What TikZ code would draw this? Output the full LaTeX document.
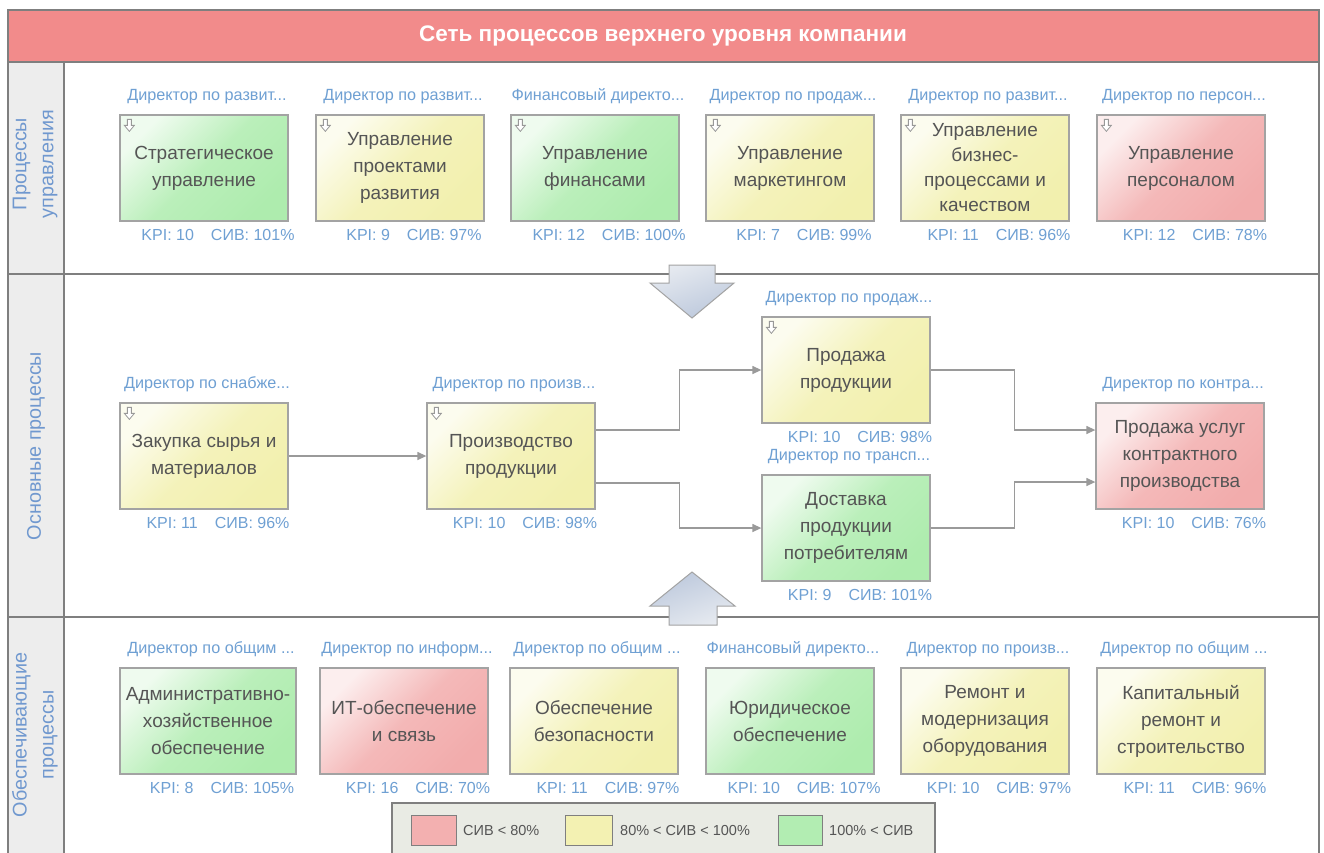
\documentclass[tikz,border=0pt]{standalone}
\usepackage{fontspec}
\setmainfont{Liberation Sans}
\usetikzlibrary{arrows.meta}

\definecolor{frameline}{HTML}{7F7F7F}
\definecolor{titlefill}{HTML}{F28B8B}
\definecolor{lanefill}{HTML}{EDEDED}
\definecolor{lanetextc}{HTML}{7098CF}
\definecolor{bluetext}{HTML}{6FA0D3}
\definecolor{boxtext}{HTML}{555555}
\definecolor{boxline}{HTML}{A3A3A3}
\definecolor{linkline}{HTML}{9A9A9A}
\definecolor{greenD}{HTML}{AEECAE}
\definecolor{yellowD}{HTML}{F2F0AE}
\definecolor{redD}{HTML}{F2ACAC}
\definecolor{arrowD}{HTML}{BCC8DC}
\definecolor{arrowL}{HTML}{E6EAF0}
\definecolor{legendfill}{HTML}{E9EBE4}

\tikzset{
  procbox/.style={draw=boxline, line width=1.3pt, minimum height=106pt,
    inner sep=2pt, align=center, text=boxtext,
    font=\fontsize{19}{27}\selectfont},
  tightbox/.style={font=\fontsize{19}{25}\selectfont},
  greenbox/.style={top color=greenD!20!white, bottom color=greenD,
    middle color=greenD!85!white, shading angle=45},
  yellowbox/.style={top color=yellowD!20!white, bottom color=yellowD,
    middle color=yellowD!85!white, shading angle=45},
  redbox/.style={top color=redD!20!white, bottom color=redD,
    middle color=redD!85!white, shading angle=45},
  dirlabel/.style={text=bluetext, font=\fontsize{16.2}{19}\selectfont, inner sep=0pt},
  kpilabel/.style={text=bluetext, font=\fontsize{16}{19}\selectfont, inner sep=0pt},
  lanetext/.style={text=lanetextc, align=center, rotate=90,
    font=\fontsize{19.8}{27}\selectfont},
  iconline/.style={draw=frameline!80, line width=0.8pt, fill=white},
  link/.style={draw=linkline, line width=1.3pt,
    -{Triangle[length=9pt,width=8pt]}},
  bigarrow/.style={draw=boxline, line width=1pt},
  swatch/.style={draw=frameline, line width=1pt},
  legendtext/.style={text=boxtext, font=\fontsize{14.5}{18}\selectfont,
    anchor=west, inner sep=0pt}
}

% process box with its owner above and indicators below
\newcommand\procnode[8]{%
  \node[procbox,#4,minimum width=#3] (#1) at (#2) {#5};
  \node[dirlabel] at ([xshift=3pt,yshift=18pt]#1.north) {#6};
  \node[kpilabel] at ([xshift=14pt,yshift=-13pt]#1.south)
    {KPI: #7\hspace{17pt}СИВ: #8\%};
}
% small "decomposed" marker in the upper left corner of a box
\newcommand\boxicon[1]{%
  \draw[iconline] ([shift={(8,5)}]#1.north west) -- ++(4,0) -- ++(0,6)
    -- ++(3,0) -- ++(-5,6) -- ++(-5,-6) -- ++(3,0) -- cycle;
}

\begin{document}
\begin{tikzpicture}[x=1pt,y=-1pt]
\useasboundingbox (0,0) rectangle (1324,852);
\fill[white] (0,0) rectangle (1324,852);

% frame, title and swimlanes
\draw[frameline, line width=1.5pt, fill=white] (8,62) rectangle (1319,880);
\draw[frameline, line width=1.5pt, fill=lanefill] (8,62) rectangle (64,880);
\draw[frameline, line width=1.5pt, fill=titlefill] (8,10) rectangle (1319,62);
\node[text=white, font=\bfseries\fontsize{22.5}{26}\selectfont] (title) at (663,36)
  {Сеть процессов верхнего уровня компании};
\draw[frameline, line width=1.5pt] (8,274) -- (1319,274);
\draw[frameline, line width=1.5pt] (8,617) -- (1319,617);

\node[lanetext] (lane1) at (35,164) {Процессы\\управления};
\node[lanetext] (lane2) at (36,446) {Основные процессы};
\node[lanetext] (lane3) at (35,735) {Обеспечивающие\\процессы};

% links between lanes
\draw[bigarrow, top color=arrowL, bottom color=arrowD, shading angle=20]
  (669,265) -- (715,265) -- (715,283) -- (734,283) -- (692,318)
  -- (650,283) -- (669,283) -- cycle;
\draw[bigarrow, top color=arrowD, bottom color=arrowL, shading angle=20]
  (692,572) -- (735,606) -- (717,606) -- (717,625) -- (669,625)
  -- (669,606) -- (650,606) -- cycle;

% management processes
\procnode{m1}{204,168}{168pt}{greenbox}{Стратегическое\\управление}{Директор по развит...}{10}{101}
\procnode{m2}{400,168}{168pt}{yellowbox}{Управление\\проектами\\развития}{Директор по развит...}{9}{97}
\procnode{m3}{595,168}{168pt}{greenbox}{Управление\\финансами}{Финансовый директо...}{12}{100}
\procnode{m4}{790,168}{168pt}{yellowbox}{Управление\\маркетингом}{Директор по продаж...}{7}{99}
\procnode{m5}{985,168}{168pt}{yellowbox,tightbox}{Управление\\бизнес-\\процессами и\\качеством}{Директор по развит...}{11}{96}
\procnode{m6}{1181,168}{168pt}{redbox}{Управление\\персоналом}{Директор по персон...}{12}{78}
\boxicon{m1}\boxicon{m2}\boxicon{m3}\boxicon{m4}\boxicon{m5}\boxicon{m6}

% core processes
\procnode{c1}{204,456}{168pt}{yellowbox}{Закупка сырья и\\материалов}{Директор по снабже...}{11}{96}
\procnode{c2}{511,456}{168pt}{yellowbox}{Производство\\продукции}{Директор по произв...}{10}{98}
\procnode{c3}{846,370}{168pt}{yellowbox}{Продажа\\продукции}{Директор по продаж...}{10}{98}
\procnode{c4}{846,528}{168pt}{greenbox}{Доставка\\продукции\\потребителям}{Директор по трансп...}{9}{101}
\procnode{c5}{1180,456}{168pt}{redbox}{Продажа услуг\\контрактного\\производства}{Директор по контра...}{10}{76}
\boxicon{c1}\boxicon{c2}\boxicon{c3}

\draw[link] (c1.east) -- (c2.west);
\draw[link] ([yshift=26pt]c2.east) -- ++(84,0) |- (c3.west);
\draw[link] ([yshift=-27pt]c2.east) -- ++(84,0) |- (c4.west);
\draw[link] (c3.east) -- ++(84,0) |- ([yshift=26pt]c5.west);
\draw[link] (c4.east) -- ++(84,0) |- ([yshift=-26pt]c5.west);

% supporting processes
\procnode{s1}{208,721}{176pt}{greenbox}{Административно-\\хозяйственное\\обеспечение}{Директор по общим ...}{8}{105}
\procnode{s2}{404,721}{168pt}{redbox}{ИТ-обеспечение\\и связь}{Директор по информ...}{16}{70}
\procnode{s3}{594,721}{168pt}{yellowbox}{Обеспечение\\безопасности}{Директор по общим ...}{11}{97}
\procnode{s4}{790,721}{168pt}{greenbox}{Юридическое\\обеспечение}{Финансовый директо...}{10}{107}
\procnode{s5}{985,721}{168pt}{yellowbox}{Ремонт и\\модернизация\\оборудования}{Директор по произв...}{10}{97}
\procnode{s6}{1181,721}{168pt}{yellowbox}{Капитальный\\ремонт и\\строительство}{Директор по общим ...}{11}{96}

% legend
\draw[frameline, line width=1.3pt, fill=legendfill] (392,803) rectangle (935,880);
\draw[swatch, fill=redD!95!white] (411,815) rectangle (456,845);
\node[legendtext] (lg1) at (463,830) {СИВ < 80\%};
\draw[swatch, fill=yellowD!95!white] (565,815) rectangle (612,845);
\node[legendtext] (lg2) at (620,830) {80\% < СИВ < 100\%};
\draw[swatch, fill=greenD!95!white] (778,815) rectangle (822,845);
\node[legendtext] (lg3) at (829,830) {100\% < СИВ};
\end{tikzpicture}
\end{document}
